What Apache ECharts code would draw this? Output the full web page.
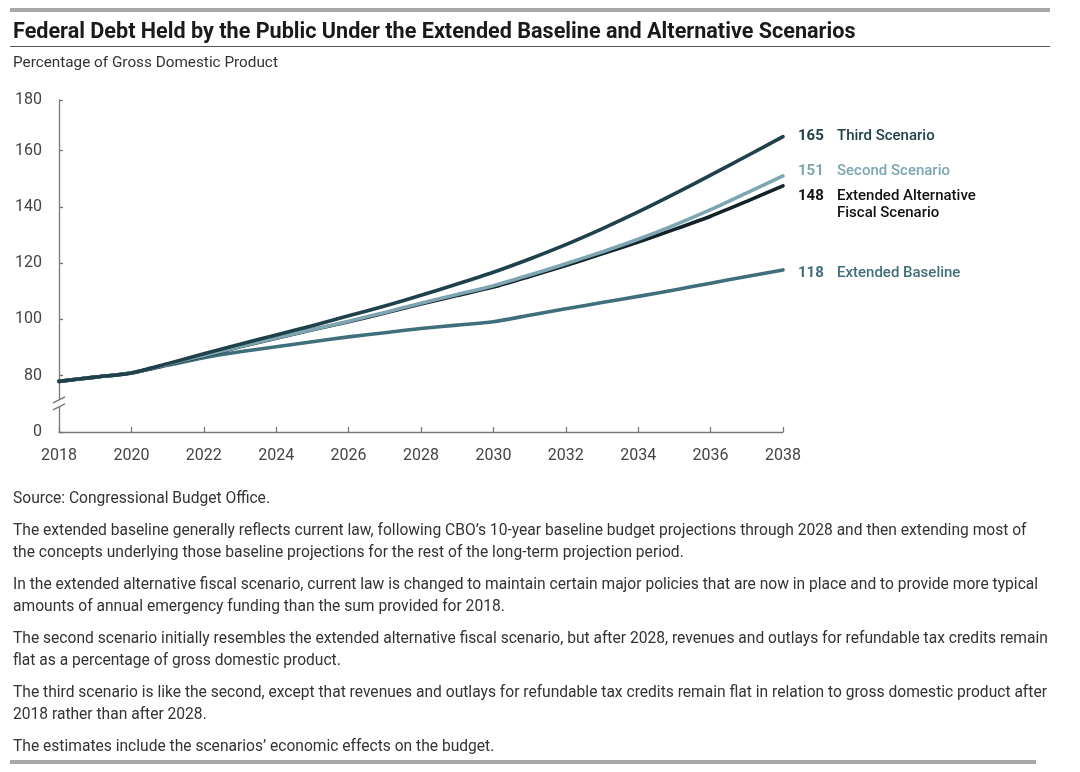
<!DOCTYPE html>
<html><head><meta charset="utf-8">
<script src="https://cdn.jsdelivr.net/npm/echarts@6/dist/echarts.min.js"></script>
<style>html,body{margin:0;padding:0;background:#fff}#c{width:1080px;height:772px}</style>
</head><body><div id="c"></div>
<script>
const years = [2018,2019,2020,2021,2022,2023,2024,2025,2026,2027,2028,2029,2030,2031,2032,2033,2034,2035,2036,2037,2038];
const extendedBaseline    = [78,79.5,81,83.7,86.4,88.5,90.3,92.1,93.8,95.3,96.8,98,99.2,101.5,103.8,106,108.2,110.5,112.9,115.3,117.6];
const extendedAlternative = [78,79.5,81,84,87,90.3,93.3,96.3,99.2,102.3,105.5,108.5,111.5,115.3,119.2,123.3,127.5,132,136.7,142,147.5];
const secondScenario      = [78,79.5,81,84.1,87.2,90.4,93.4,96.4,99.4,102.5,105.8,108.9,112,115.8,119.8,124,128.5,133.5,139,145,151];
const thirdScenario       = [78,79.5,81,84.3,87.8,91.2,94.5,97.8,101.3,104.8,108.6,112.6,116.8,121.5,126.6,132.2,138.2,144.6,151.3,158.1,165];
const endValues = [118,148,151,165];
const seriesNames = ['Extended Baseline','Extended Alternative\nFiscal Scenario','Second Scenario','Third Scenario'];
const yTickLabels = {60:'0',80:'80',100:'100',120:'120',140:'140',160:'160',178:'180'};
const titleText = 'Federal Debt Held by the Public Under the Extended Baseline and Alternative Scenarios';
const subtitleText = 'Percentage of Gross Domestic Product';
const notes = [
  'Source: Congressional Budget Office.',
  'The extended baseline generally reflects current law, following CBO\u2019s 10-year baseline budget projections through 2028 and then extending most of\nthe concepts underlying those baseline projections for the rest of the long-term projection period.',
  'In the extended alternative fiscal scenario, current law is changed to maintain certain major policies that are now in place and to provide more typical\namounts of annual emergency funding than the sum provided for 2018.',
  'The second scenario initially resembles the extended alternative fiscal scenario, but after 2028, revenues and outlays for refundable tax credits remain\nflat as a percentage of gross domestic product.',
  'The third scenario is like the second, except that revenues and outlays for refundable tax credits remain flat in relation to gross domestic product after\n2018 rather than after 2028.',
  'The estimates include the scenarios\u2019 economic effects on the budget.'
];

const FONT = 'Roboto';
const colors = ['#3f6f7b','#14232a','#7ea6b2','#1f414b'];
const labelColors = ['#3f6f7b','#111','#7ea6b2','#1f414b'];
const labelDy = [3,19,-5,0];
const dataSets = [extendedBaseline, extendedAlternative, secondScenario, thirdScenario];

function mkSeries(i){
  const lines = seriesNames[i].split('\n');
  return {
    type:'line', name:seriesNames[i],
    data: years.map((y,k)=>[y,dataSets[i][k]]),
    showSymbol:false, smooth:0.25, z: 2+i,
    lineStyle:{color:colors[i], width:3.6, cap:'round', join:'round'},
    itemStyle:{color:colors[i]},
    emphasis:{disabled:true},
    endLabel:{
      show:true, distance:0, offset:[15,labelDy[i]],
      formatter: function(){
        let s = '{n|'+endValues[i]+'}{t|'+lines[0]+'}';
        for (let j=1;j<lines.length;j++) s += '\n{n|\u00a0}{t|'+lines[j]+'}';
        return s;
      },
      lineHeight:17,
      rich:{
        n:{width:39, fontFamily:FONT, fontSize:15, fontWeight:'bold', color:labelColors[i], lineHeight:17},
        t:{fontFamily:FONT, fontSize:15, fontWeight:500, color:labelColors[i], lineHeight:17}
      }
    }
  };
}

const chart = echarts.init(document.getElementById('c'), null, {renderer:'canvas'});
const noteGraphics = [];
let ny = 488;
notes.forEach(p=>{
  const n = p.split('\n').length;
  noteGraphics.push({type:'text', left:13, top:ny, style:{text:p, fontFamily:FONT, fontSize:15.6, lineHeight:22, fill:'#333'}});
  ny += n*22 + 10;
});

chart.setOption({
  animation:false,
  backgroundColor:'#fff',
  title:[
    {text:titleText, left:13, top:22, padding:0, textStyle:{fontFamily:FONT, fontSize:21.6, fontWeight:'bold', color:'#1a1a1a'}},
    {text:subtitleText, left:13, top:56, padding:0, textStyle:{fontFamily:FONT, fontSize:15.3, fontWeight:'normal', color:'#333'}}
  ],
  grid:{left:59, right:297, top:100, bottom:340, outerBoundsMode:'none'},
  xAxis:{
    type:'value', min:2018, max:2038, interval:2,
    axisLine:{lineStyle:{color:'#777', width:1.3}},
    axisTick:{inside:true, length:5, lineStyle:{color:'#777', width:1.3}},
    splitLine:{show:false},
    axisLabel:{formatter:v=>String(v), fontFamily:FONT, fontSize:16, color:'#444', margin:16}
  },
  yAxis:{
    type:'value', min:60, max:178, interval:20,
    axisLine:{show:true, lineStyle:{color:'#777', width:1.3}},
    axisTick:{show:true, inside:true, length:4, lineStyle:{color:'#777', width:1.3}},
    splitLine:{show:false},
    axisLabel:{showMaxLabel:true, formatter:v=>yTickLabels[v]!==undefined?yTickLabels[v]:'', fontFamily:FONT, fontSize:16, color:'#444', margin:17}
  },
  series:[0,1,2,3].map(mkSeries)
});

// y-axis break marker located through the axis scale
const bp = chart.convertToPixel({gridIndex:0}, [2018, 70]);
const bx = bp[0], by = bp[1];
chart.setOption({graphic: [
  {type:'rect', shape:{x:10,y:8,width:1040,height:4}, style:{fill:'#a8a8a8'}},
  {type:'rect', shape:{x:10,y:46,width:1040,height:1}, style:{fill:'#555'}},
  {type:'rect', shape:{x:10,y:760,width:1026,height:4}, style:{fill:'#a8a8a8'}}
].concat(noteGraphics).concat([
  {type:'rect', shape:{x:bx-3,y:by-4,width:6,height:7}, style:{fill:'#fff'}, z:100},
  {type:'line', shape:{x1:bx-6,y1:by-1,x2:bx+6,y2:by-7}, style:{stroke:'#777', lineWidth:1.3}, z:101},
  {type:'line', shape:{x1:bx-6,y1:by+6,x2:bx+6,y2:by}, style:{stroke:'#777', lineWidth:1.3}, z:101}
])});
</script></body></html>
